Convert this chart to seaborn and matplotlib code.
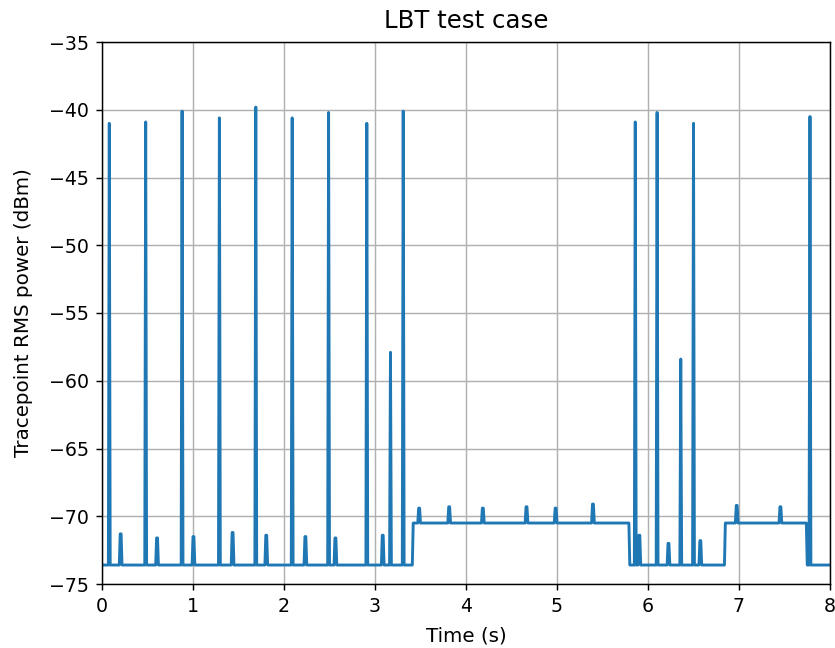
import numpy as np
import pandas as pd
import matplotlib
matplotlib.use("Agg")
import matplotlib.pyplot as plt
import seaborn as sns

# Baseline level segments (start time in s, level in dBm)
seg_start = [0.0, 3.42, 5.80, 6.85, 7.75]
seg_level = [-73.6, -70.5, -73.6, -70.5, -73.6]

# Tall transmission spikes
spike_time = [0.077, 0.476, 0.879, 1.289, 1.692, 2.088, 2.487, 2.908, 3.17, 3.31,
              5.857, 6.102, 6.359, 6.50, 7.784]
spike_peak = [-41.0, -40.9, -40.1, -40.6, -39.8, -40.6, -40.2, -41.0, -57.9, -40.1,
              -40.9, -40.2, -58.4, -41.0, -40.5]

# Small bumps
bump_time = [0.198, 0.597, 0.996, 1.429, 1.799, 2.231, 2.56, 3.08, 3.48, 3.81, 4.18,
             4.66, 4.98, 5.39, 5.90, 6.223, 6.57, 6.967, 7.45]
bump_peak = [-71.3, -71.6, -71.5, -71.2, -71.4, -71.5, -71.6, -71.4, -69.4, -69.3, -69.4,
             -69.3, -69.4, -69.1, -71.4, -72.0, -71.8, -69.2, -69.3]

dt = 0.01
t = np.round(np.arange(0, 8.0 + dt / 2, dt), 2)
y = np.empty_like(t)
for s, lv in zip(seg_start, seg_level):
    y[t >= s - 1e-9] = lv
for ts, pk in zip(bump_time, bump_peak):
    i = int(round(ts / dt))
    y[i] = pk
    y[i + 1] = pk
for ts, pk in zip(spike_time, spike_peak):
    y[int(round(ts / dt))] = pk

df = pd.DataFrame({"Time (s)": t, "power": y})

plt.rcParams["font.family"] = ["DejaVu Sans"]
fig = plt.figure(figsize=(835 / 130, 648 / 130), dpi=130)
ax = fig.add_axes([102 / 835, 1 - 584 / 648, (830 - 102) / 835, (584 - 42) / 648])
sns.lineplot(data=df, x="Time (s)", y="power", ax=ax, color="#1f77b4", linewidth=1.6)
ax.set_xlim(0, 8)
ax.set_ylim(-75, -35)
ax.set_xticks(range(0, 9))
ax.set_yticks(range(-75, -34, 5))
ax.tick_params(labelsize=10.5)
ax.grid(True)
ax.set_xlabel("Time (s)", fontsize=11, labelpad=6)
ax.set_ylabel("Tracepoint RMS power (dBm)", fontsize=11, labelpad=9)
ax.set_title("LBT test case", fontsize=13.5, pad=7.5)
fig.savefig("out.png", dpi=130)
